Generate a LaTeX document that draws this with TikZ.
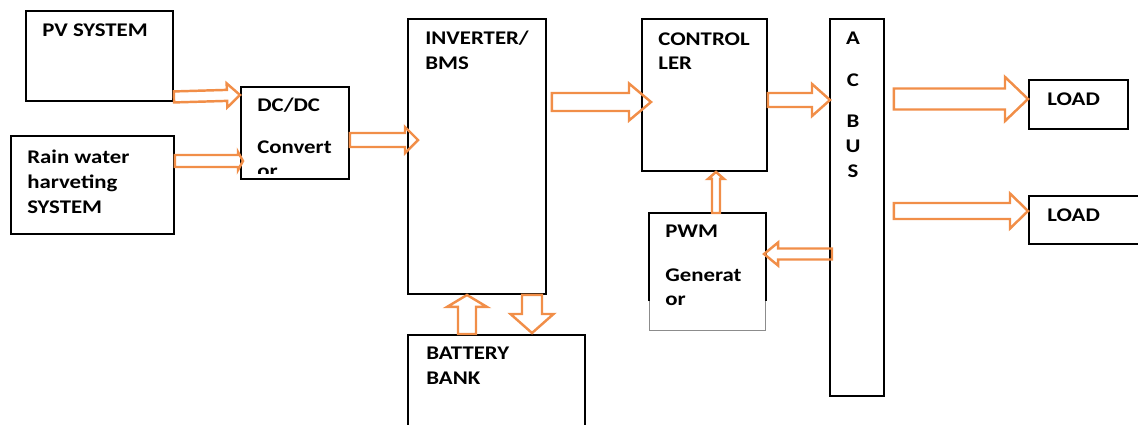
\documentclass[tikz,border=0pt]{standalone}
\usepackage{fontspec}
\setmainfont{Carlito}[FakeStretch=1.18]
\usetikzlibrary{calc,positioning}
\definecolor{arroworange}{RGB}{241,142,72}

% hollow block arrow: from, to, shaft half width, head half width, head length (in px)
\newcommand{\fatarrow}[5]{%
  \draw[arroworange, line width=1.4pt, line join=miter]
    let \p1=(#1), \p2=(#2), \n1={atan2(\y2-\y1,\x2-\x1)}, \n2={veclen(\x2-\x1,\y2-\y1)}
    in [shift={(\p1)}, rotate=\n1]
    (0pt,{-#3*0.02cm}) -- ({\n2*1pt-#5*0.02cm},{-#3*0.02cm}) -- ({\n2*1pt-#5*0.02cm},{-#4*0.02cm})
    -- ({\n2*1pt},0pt) -- ({\n2*1pt-#5*0.02cm},{#4*0.02cm}) -- ({\n2*1pt-#5*0.02cm},{#3*0.02cm})
    -- (0pt,{#3*0.02cm}) -- cycle;}

\begin{document}
\begin{tikzpicture}[x=0.02cm, y=-0.02cm,
  box/.style={draw, line width=1.1pt, inner sep=0pt, anchor=north west},
  wh/.style 2 args={minimum width=#1*0.02cm, minimum height=#2*0.02cm},
  lbl/.style={inner sep=0pt, anchor=north west, align=left,
    font=\fontsize{11}{14.2}\selectfont\bfseries}]
\useasboundingbox (0,0) rectangle (1138,424);
% blocks
\node[box, wh={147}{90}] (pv) at (25,10) {};
\node[box, wh={163}{98}] (rain) at (10,135) {};
\node[box, wh={108}{92}] (dcdc) at (240,86) {};
\node[box, wh={138}{275}] (inv) at (407,18) {};
\node[box, wh={177}{120}] (batt) at (407,334) {};
\node[box, wh={125}{152}] (ctrl) at (641,18) {};
\node[draw=black!45, line width=.6pt, inner sep=0pt, anchor=north west, wh={116}{117}] (pwm) at (649,213) {};
\draw[line width=1.1pt] ($(pwm.south west)+(0,-30)$) -- (pwm.north west) -- (pwm.north east) -- ($(pwm.south east)+(0,-30)$);
\node[box, wh={54}{377}] (acbus) at (829,18) {};
\node[box, wh={99}{49}] (load1) at (1028,79) {};
\node[box, wh={130}{48}] (load2) at (1028,195) {};
% labels
\node[lbl] (pv-t) at ($(pv.north west)+(17,13)$) {PV SYSTEM};
\node[lbl] (rain-t) at ($(rain.north west)+(17,15)$) {Rain water\\harveting\\SYSTEM};
\node[lbl] (dcdc-t) at ($(dcdc.north west)+(17,12)$) {DC/DC};
\begin{scope}
\clip (dcdc.north west) rectangle ($(dcdc.south east)+(0,-6)$);
\node[lbl] (dcdc-t2) at ($(dcdc.north west)+(17,54)$) {Convert\\or};
\end{scope}
\node[lbl] (inv-t) at ($(inv.north west)+(18,13)$) {INVERTER/\\BMS};
\node[lbl] (ctrl-t) at ($(ctrl.north west)+(17,14)$) {CONTROL\\LER};
\node[lbl] (batt-t) at ($(batt.north west)+(19,13)$) {BATTERY\\BANK};
\node[lbl] (pwm-t) at ($(pwm.north west)+(16,12)$) {PWM};
\node[lbl] (pwm-t2) at ($(pwm.north west)+(16,55)$) {Generat\\or};
\node[lbl] (load1-t) at ($(load1.north west)+(19,13)$) {LOAD};
\node[lbl] (load2-t) at ($(load2.north west)+(19,13)$) {LOAD};
\foreach \l/\dy in {A/14, C/55, B/97, U/122, S/146}
  \node[lbl, anchor=north] (bus-\l) at ($(acbus.north west)+(24,\dy)$) {\l};
% flows
\fatarrow{$(pv.south east)+(0,-5)$}{$(dcdc.north west)+(0,9)$}{5.5}{12}{13}
\fatarrow{$(rain.north east)+(0,26)$}{$(dcdc.north west)+(3,75)$}{6}{9}{5}
\fatarrow{$(dcdc.north east)+(0,54)$}{$(inv.north west)+(11,122)$}{7}{13}{13}
\fatarrow{$(inv.north east)+(5,84)$}{$(ctrl.north west)+(10,84)$}{9}{18.5}{22}
\fatarrow{$(ctrl.north east)+(0,82)$}{$(acbus.north west)+(1,82)$}{7}{16}{18}
\fatarrow{$(acbus.north east)+(9,81)$}{$(load1.north west)+(0,20)$}{10.5}{22}{23}
\fatarrow{$(acbus.north east)+(9,193)$}{$(load2.north west)+(0,16)$}{8}{17.5}{18}
\fatarrow{$(pwm.north west)+(67,0)$}{$(ctrl.south west)+(75,0)$}{4}{8}{7}
\fatarrow{$(acbus.north west)+(3,236)$}{$(pwm.north east)+(-2,41)$}{5.5}{11.5}{14}
\fatarrow{$(batt.north west)+(60,0)$}{$(inv.south west)+(60,0)$}{9}{20}{12}
\fatarrow{$(inv.south west)+(125,0)$}{$(batt.north west)+(125,-1)$}{10}{21.5}{19}
\end{tikzpicture}
\end{document}
